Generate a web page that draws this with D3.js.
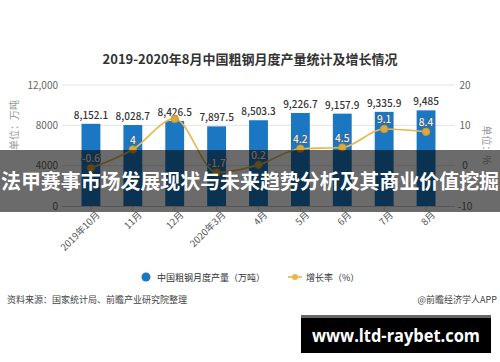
<!DOCTYPE html>
<html>
<head>
<meta charset="utf-8">
<script src="https://cdn.jsdelivr.net/npm/d3@7"></script>
<style>
  body { margin: 0; background: #fff; }
  svg { display: block; font-family: "Noto Sans CJK SC", "Noto Sans", sans-serif; }
</style>
</head>
<body>
<div id="chart"></div>
<script>
// chart data
var months = ["2019年10月", "11月", "12月", "2020年3月", "4月", "5月", "6月", "7月", "8月"];
var output = [8152.1, 8028.7, 8426.5, 7897.5, 8503.3, 9226.7, 9157.9, 9335.9, 9485];
var growth = [-0.6, 4, 11.6, -1.7, 0.2, 4.2, 4.5, 9.1, 8.4];
var showGrowthLabel = [true, true, false, true, true, true, true, true, true];
var leftTicks = [0, 4000, 8000, 12000];
var leftTickLabels = ["0", "4000", "8000", "12,000"];
var rightTicks = [-10, 0, 10, 20];

var width = 500, height = 362;
var blue = "#1b77c2", gold = "#e8b64a";

var svg = d3.select("#chart").append("svg")
    .attr("width", width)
    .attr("height", height);

svg.append("text")
    .attr("x", 250).attr("y", 64)
    .attr("text-anchor", "middle")
    .style("font-size", "13px").style("font-weight", "bold").style("fill", "#333")
    .text("2019-2020年8月中国粗钢月度产量统计及增长情况");

var x = d3.scaleBand().domain(months).range([70, 447]).paddingInner(0.55).paddingOuter(0.275);
var y = d3.scaleLinear().domain([0, 12000]).range([206, 85]);
var y2 = d3.scaleLinear().domain([-10, 20]).range([206, 85]);
function cx(i) { return x(months[i]) + x.bandwidth() / 2; }

// grid
svg.append("g").selectAll("line")
    .data(leftTicks.slice(1))
    .enter().append("line")
    .attr("x1", 62).attr("x2", 455)
    .attr("y1", function (d) { return y(d); }).attr("y2", function (d) { return y(d); })
    .style("stroke", "#e3e3e3");

// left axis labels
svg.append("g").selectAll("text")
    .data(leftTicks)
    .enter().append("text")
    .attr("x", 58).attr("y", function (d) { return y(d) + 3.5; })
    .attr("text-anchor", "end")
    .style("font-size", "10px").style("fill", "#666")
    .text(function (d, i) { return leftTickLabels[i]; });

// right axis labels
svg.append("g").selectAll("text")
    .data(rightTicks)
    .enter().append("text")
    .attr("x", 465).attr("y", function (d) { return y2(d) + 3.5; })
    .attr("text-anchor", "middle")
    .style("font-size", "10px").style("fill", "#666")
    .text(function (d) { return d; });

svg.append("text")
    .attr("transform", "translate(18,125) rotate(-90)")
    .attr("text-anchor", "middle")
    .style("font-size", "10px").style("fill", "#999")
    .text("单位：万吨");
svg.append("text")
    .attr("transform", "translate(483,145) rotate(90)")
    .attr("text-anchor", "middle")
    .style("font-size", "10px").style("fill", "#999")
    .text("单位：%");

// bottom axis
var xAxis = svg.append("g").attr("transform", "translate(0,206)")
    .call(d3.axisBottom(x).tickSize(5).tickSizeOuter(0));
xAxis.select(".domain").attr("d", "M62,0.5H455").style("stroke", "#ccc");
xAxis.selectAll(".tick line").style("stroke", "#ccc");
xAxis.selectAll(".tick text")
    .attr("transform", "translate(3,3) rotate(-45)")
    .attr("text-anchor", "end")
    .attr("dy", "0.35em").attr("y", 6).attr("x", 0)
    .style("font-size", "9.5px").style("fill", "#555")
    .style("font-family", "'Noto Sans CJK SC', sans-serif");

// bars
svg.append("g").selectAll("rect")
    .data(output)
    .enter().append("rect")
    .attr("x", function (d, i) { return x(months[i]); })
    .attr("width", x.bandwidth())
    .attr("y", function (d) { return y(d); })
    .attr("height", function (d) { return y(0) - y(d); })
    .style("fill", blue);

svg.append("g").selectAll("text")
    .data(output)
    .enter().append("text")
    .attr("x", function (d, i) { return cx(i); })
    .attr("y", function (d) { return y(d) - 5; })
    .attr("text-anchor", "middle")
    .style("font-size", "10px").style("fill", "#333").style("font-weight", "500")
    .text(function (d) { return d3.format(",")(d); });

// growth line
var line = d3.line()
    .x(function (d, i) { return cx(i); })
    .y(function (d) { return y2(d); })
    .curve(d3.curveMonotoneX);

svg.append("path")
    .datum(growth)
    .attr("d", line)
    .style("fill", "none").style("stroke", gold).style("stroke-width", 1.6);

svg.append("g").selectAll("circle")
    .data(growth)
    .enter().append("circle")
    .attr("cx", function (d, i) { return cx(i); })
    .attr("cy", function (d) { return y2(d); })
    .attr("r", 3.8)
    .style("fill", "#dba93c").style("stroke", "#c7962f").style("stroke-width", 0.8);

var growthLabels = growth.map(function (v, i) { return { v: v, i: i }; })
    .filter(function (d) { return showGrowthLabel[d.i]; });

svg.append("g").selectAll("text")
    .data(growthLabels)
    .enter().append("text")
    .attr("x", function (d) { return cx(d.i); })
    .attr("y", function (d) { return y2(d.v) - 6; })
    .attr("text-anchor", "middle")
    .style("font-size", "10.5px").style("fill", "#fff")
    .style("stroke", "#3f6a8c").style("stroke-width", 2.2).style("paint-order", "stroke")
    .style("stroke-linejoin", "round")
    .text(function (d) { return d.v; });

// legend
var legend = svg.append("g");
legend.append("circle").attr("cx", 146).attr("cy", 277).attr("r", 4.5).style("fill", blue);
legend.append("text").attr("x", 157).attr("y", 280.5)
    .style("font-size", "9px").style("fill", "#333")
    .text("中国粗钢月度产量（万吨）");
legend.append("line").attr("x1", 288).attr("x2", 302).attr("y1", 277).attr("y2", 277)
    .style("stroke", gold).style("stroke-width", 1.6);
legend.append("circle").attr("cx", 295).attr("cy", 277).attr("r", 3).style("fill", gold);
legend.append("text").attr("x", 306).attr("y", 280.5)
    .style("font-size", "9px").style("fill", "#333")
    .text("增长率（%）");

// source
svg.append("text").attr("x", 7).attr("y", 303)
    .style("font-size", "9px").style("fill", "#444")
    .text("资料来源：国家统计局、前瞻产业研究院整理");
svg.append("text").attr("x", 497).attr("y", 303)
    .attr("text-anchor", "end")
    .style("font-size", "9px").style("fill", "#444")
    .text("@前瞻经济学人APP");

// overlay banner
svg.append("rect").attr("x", 0).attr("y", 150).attr("width", width).attr("height", 62)
    .style("fill", "rgba(0,0,0,0.58)");
svg.append("text").attr("x", 250).attr("y", 189)
    .attr("text-anchor", "middle")
    .attr("textLength", 498).attr("lengthAdjust", "spacingAndGlyphs")
    .style("font-size", "20px").style("font-weight", "bold").style("fill", "#fff")
    .text("法甲赛事市场发展现状与未来趋势分析及其商业价值挖掘");

// link box
svg.append("rect").attr("x", 301).attr("y", 315).attr("width", 190).attr("height", 38)
    .style("fill", "#000");
svg.append("rect").attr("x", 301).attr("y", 315).attr("width", 190).attr("height", 3)
    .style("fill", "#666");
svg.append("text").attr("x", 396).attr("y", 342)
    .attr("text-anchor", "middle")
    .attr("textLength", 168).attr("lengthAdjust", "spacingAndGlyphs")
    .style("font-family", "'Open Sans', sans-serif")
    .style("font-size", "18px").style("font-weight", "bold").style("fill", "#fff")
    .text("www.ltd-raybet.com");
</script>
</body>
</html>
